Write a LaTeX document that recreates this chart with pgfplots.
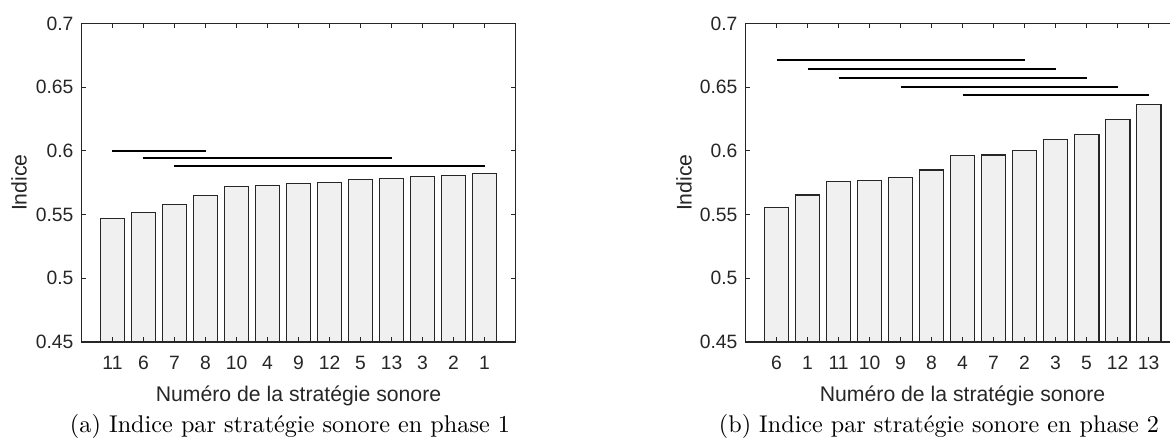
\documentclass[border=0pt]{standalone}
\usepackage{fontspec}
\usepackage{graphicx}
\usepackage{pgfplots}
\pgfplotsset{compat=1.18}
\newfontfamily\axisfont{Liberation Sans}
\definecolor{barfill}{RGB}{240,240,240}
\definecolor{axgray}{RGB}{38,38,38}
\pgfplotsset{mystyle/.style={
  scale only axis, width=204pt, height=149.7pt,
  anchor=south west,
  xmin=0, xmax=14, ymin=0.45, ymax=0.7,
  xtick={1,2,3,4,5,6,7,8,9,10,11,12,13},
  ytick={0.45,0.5,0.55,0.6,0.65,0.7},
  yticklabels={0.45,0.5,0.55,0.6,0.65,0.7},
  tick align=inside, major tick length=2.2pt,
  xtick pos=both, ytick pos=both,
  axis on top,
  axis line style={axgray, line width=0.5pt},
  every tick/.style={axgray, line width=0.5pt},
  /pgf/number format/assume math mode=true,
  every tick label/.append style={font=\axisfont\fontsize{9.07}{10}\selectfont, text=axgray},
  xticklabel style={anchor=base, yshift=-13.16pt, inner sep=0pt},
  yticklabel style={anchor=east, inner sep=0pt, xshift=-3.6pt},
}}
\newcommand{\lblfont}{\axisfont\fontsize{9.97}{11}\selectfont}
\begin{document}
\begin{tikzpicture}
\begin{axis}[mystyle, at={(38.3pt,45.12pt)},
  xticklabels={11,6,7,8,10,4,9,12,5,13,3,2,1}]
\addplot[ybar, bar width=0.8, fill=barfill, draw=black!85, line width=0.5pt] coordinates {
(1,0.5466) (2,0.5520) (3,0.5581) (4,0.5649) (5,0.5717) (6,0.5730) (7,0.5743)
(8,0.5751) (9,0.5774) (10,0.5782) (11,0.5798) (12,0.5808) (13,0.5821)};
\addplot[black, line width=1pt] coordinates {(1,0.6002) (4,0.6002)};
\addplot[black, line width=1pt] coordinates {(2,0.5942) (10,0.5942)};
\addplot[black, line width=1pt] coordinates {(3,0.5882) (13,0.5882)};
\end{axis}
\begin{axis}[mystyle, at={(350.4pt,45.12pt)},
  xticklabels={6,1,11,10,9,8,4,7,2,3,5,12,13}]
\addplot[ybar, bar width=0.8, fill=barfill, draw=black!85, line width=0.5pt] coordinates {
(1,0.5557) (2,0.5654) (3,0.5758) (4,0.5766) (5,0.5793) (6,0.5850) (7,0.5965)
(8,0.5968) (9,0.6000) (10,0.6086) (11,0.6128) (12,0.6243) (13,0.6363)};
\addplot[black, line width=1pt] coordinates {(1,0.6714) (9,0.6714)};
\addplot[black, line width=1pt] coordinates {(2,0.6645) (10,0.6645)};
\addplot[black, line width=1pt] coordinates {(3,0.6575) (11,0.6575)};
\addplot[black, line width=1pt] coordinates {(5,0.6504) (12,0.6504)};
\addplot[black, line width=1pt] coordinates {(7,0.6436) (13,0.6436)};
\end{axis}
\node[font=\lblfont, text=axgray, anchor=base, inner sep=0pt] at (140.3pt,17.06pt) {Numéro de la stratégie sonore};
\node[font=\lblfont, text=axgray, anchor=base, inner sep=0pt] at (452.4pt,17.06pt) {Numéro de la stratégie sonore};
\node[font=\lblfont, text=axgray, anchor=base, rotate=90, inner sep=0pt] at (12.55pt,120pt) {Indice};
\node[font=\lblfont, text=axgray, anchor=base, rotate=90, inner sep=0pt] at (325.1pt,120pt) {Indice};
\node[anchor=base, inner sep=0pt] at (136.3pt,2.68pt) {\resizebox{206.8pt}{!}{(a) Indice par stratégie sonore en phase 1}};
\node[anchor=base, inner sep=0pt] at (441.3pt,2.68pt) {\resizebox{206.8pt}{!}{(b) Indice par stratégie sonore en phase 2}};
\pgfresetboundingbox
\useasboundingbox (0,0) rectangle (549.9pt,205.86pt);
\end{tikzpicture}
\end{document}
